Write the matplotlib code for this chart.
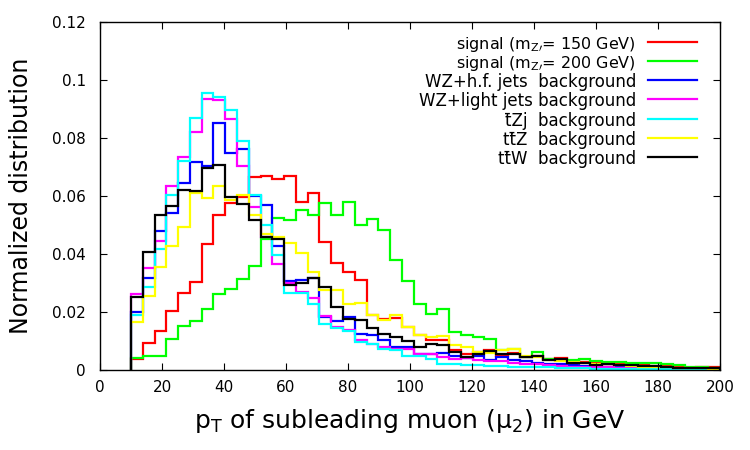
import numpy as np
import matplotlib
matplotlib.use("Agg")
import matplotlib.pyplot as plt
from matplotlib.ticker import FuncFormatter, FixedLocator

# ---- data: normalized distributions, 50 bins from 10 to 200 GeV ----
bin_lo, bin_hi = 10.0, 200.0

sig150 = [0.0039, 0.0093, 0.0136, 0.0204, 0.0265, 0.0305, 0.0436, 0.0536, 0.0575, 0.0597,
          0.0666, 0.0668, 0.0659, 0.0668, 0.0578, 0.0610, 0.0443, 0.0370, 0.0338, 0.0311,
          0.0189, 0.0177, 0.0180, 0.0148, 0.0120, 0.0102, 0.0102, 0.0068, 0.0056, 0.0062,
          0.0070, 0.0050, 0.0058, 0.0045, 0.0048, 0.0038, 0.0040, 0.0030, 0.0028, 0.0025,
          0.0022, 0.0020, 0.0018, 0.0016, 0.0015, 0.0013, 0.0012, 0.0008, 0.0010, 0.0012]
sig200 = [0.0040, 0.0047, 0.0047, 0.0107, 0.0153, 0.0168, 0.0212, 0.0263, 0.0281, 0.0313,
          0.0360, 0.0452, 0.0524, 0.0516, 0.0553, 0.0536, 0.0576, 0.0536, 0.0580, 0.0499,
          0.0521, 0.0482, 0.0378, 0.0307, 0.0229, 0.0192, 0.0212, 0.0132, 0.0120, 0.0114,
          0.0108, 0.0070, 0.0073, 0.0044, 0.0062, 0.0039, 0.0034, 0.0035, 0.0038, 0.0030,
          0.0027, 0.0027, 0.0025, 0.0024, 0.0024, 0.0020, 0.0018, 0.0010, 0.0010, 0.0008]
wz_hf = [0.0200, 0.0316, 0.0478, 0.0541, 0.0644, 0.0718, 0.0703, 0.0850, 0.0749, 0.0761,
         0.0601, 0.0570, 0.0426, 0.0307, 0.0310, 0.0316, 0.0183, 0.0170, 0.0183, 0.0123,
         0.0120, 0.0102, 0.0079, 0.0079, 0.0056, 0.0056, 0.0058, 0.0048, 0.0042, 0.0050,
         0.0035, 0.0045, 0.0035, 0.0030, 0.0025, 0.0022, 0.0020, 0.0018, 0.0015, 0.0012,
         0.0012, 0.0010, 0.0008, 0.0008, 0.0006, 0.0006, 0.0005, 0.0004, 0.0004, 0.0003]
wz_light = [0.0262, 0.0353, 0.0445, 0.0633, 0.0735, 0.0821, 0.0934, 0.0932, 0.0867, 0.0705,
            0.0561, 0.0460, 0.0365, 0.0300, 0.0270, 0.0250, 0.0185, 0.0148, 0.0137, 0.0105,
            0.0091, 0.0079, 0.0073, 0.0073, 0.0056, 0.0056, 0.0045, 0.0038, 0.0040, 0.0035,
            0.0030, 0.0032, 0.0025, 0.0022, 0.0020, 0.0018, 0.0015, 0.0012, 0.0012, 0.0010,
            0.0009, 0.0008, 0.0007, 0.0006, 0.0005, 0.0005, 0.0004, 0.0003, 0.0003, 0.0002]
tzj = [0.0189, 0.0285, 0.0418, 0.0605, 0.0720, 0.0868, 0.0956, 0.0942, 0.0898, 0.0790,
       0.0602, 0.0501, 0.0397, 0.0264, 0.0264, 0.0229, 0.0160, 0.0145, 0.0133, 0.0096,
       0.0091, 0.0073, 0.0068, 0.0050, 0.0050, 0.0039, 0.0021, 0.0020, 0.0018, 0.0018,
       0.0015, 0.0015, 0.0012, 0.0012, 0.0010, 0.0010, 0.0008, 0.0007, 0.0006, 0.0005,
       0.0005, 0.0004, 0.0004, 0.0003, 0.0003, 0.0002, 0.0002, 0.0002, 0.0001, 0.0001]
ttz = [0.0166, 0.0256, 0.0356, 0.0428, 0.0493, 0.0611, 0.0593, 0.0634, 0.0585, 0.0603,
       0.0533, 0.0469, 0.0460, 0.0437, 0.0403, 0.0337, 0.0276, 0.0276, 0.0229, 0.0232,
       0.0189, 0.0174, 0.0189, 0.0148, 0.0120, 0.0114, 0.0118, 0.0085, 0.0081, 0.0062,
       0.0060, 0.0068, 0.0072, 0.0048, 0.0045, 0.0035, 0.0030, 0.0028, 0.0025, 0.0022,
       0.0020, 0.0018, 0.0015, 0.0012, 0.0012, 0.0010, 0.0008, 0.0008, 0.0006, 0.0005]
ttw = [0.0252, 0.0407, 0.0536, 0.0566, 0.0619, 0.0616, 0.0695, 0.0707, 0.0597, 0.0572,
       0.0518, 0.0458, 0.0452, 0.0293, 0.0300, 0.0316, 0.0287, 0.0218, 0.0176, 0.0174,
       0.0146, 0.0125, 0.0114, 0.0099, 0.0079, 0.0091, 0.0085, 0.0062, 0.0044, 0.0056,
       0.0065, 0.0055, 0.0055, 0.0045, 0.0048, 0.0035, 0.0038, 0.0025, 0.0025, 0.0018,
       0.0019, 0.0017, 0.0017, 0.0015, 0.0013, 0.0010, 0.0008, 0.0006, 0.0008, 0.0006]

series = [sig150, sig200, wz_hf, wz_light, tzj, ttz, ttw]
labels = [r"signal (m$_{\mathregular{Z}\prime}$= 150 GeV)",
          r"signal (m$_{\mathregular{Z}\prime}$= 200 GeV)",
          "WZ+h.f. jets  background",
          "WZ+light jets background",
          "t\u0304Zj  background",
          "tt\u0304Z  background",
          "tt\u0304W  background"]
colors = ["#ff0000", "#00ff00", "#0000ff", "#ff00ff", "#00ffff", "#ffff00", "#000000"]

xticks = [0, 20, 40, 60, 80, 100, 120, 140, 160, 180, 200]
yticks = [0, 0.02, 0.04, 0.06, 0.08, 0.10, 0.12]

# ---- plot ----
W, H = 750, 450
ax_l, ax_t, ax_w, ax_h = 100, 22, 620, 348
fig = plt.figure(figsize=(7.5, 4.5), dpi=100)
ax = fig.add_axes([ax_l / W, (H - ax_t - ax_h) / H, ax_w / W, ax_h / H])

for vals, col in zip(series, colors):
    edges = np.linspace(bin_lo, bin_hi, len(vals) + 1)
    ax.stairs(vals, edges, baseline=0, color=col, lw=1.6)

ax.set_xlim(0, 200)
ax.set_ylim(0, 0.12)
ax.xaxis.set_major_locator(FixedLocator(xticks))
ax.yaxis.set_major_locator(FixedLocator(yticks))
ax.yaxis.set_major_formatter(FuncFormatter(lambda v, p: f"{v:g}"))
ax.tick_params(direction="in", length=5, width=0.8, top=True, right=True,
               labelsize=11)
ax.tick_params(axis="y", pad=10)
ax.tick_params(axis="x", pad=7)
for sp in ax.spines.values():
    sp.set_linewidth(1.0)

ax.set_xlabel(r"p$_\mathregular{T}$ of subleading muon ($\mathregular{\mu_2}$) in GeV",
              fontsize=18, labelpad=9)
ax.set_ylabel("Normalized distribution", fontsize=17, labelpad=14)

# gnuplot-style key: right-aligned text followed by a line sample
def ax_x(px):
    return (px - ax_l) / ax_w

def ax_y(py):
    return 1 - (py - ax_t) / ax_h

row0, drow = 41.7, 19.2
for i, (lab, col) in enumerate(zip(labels, colors)):
    yy = ax_y(row0 + drow * i)
    fs = 11.5 if "$" in lab else 12
    ax.text(ax_x(636), yy, lab, transform=ax.transAxes, ha="right",
            va="center_baseline", fontsize=fs)
    ax.plot([ax_x(648), ax_x(697)], [yy, yy], transform=ax.transAxes,
            color=col, lw=1.6, clip_on=False)

fig.savefig("out.png", dpi=100)
